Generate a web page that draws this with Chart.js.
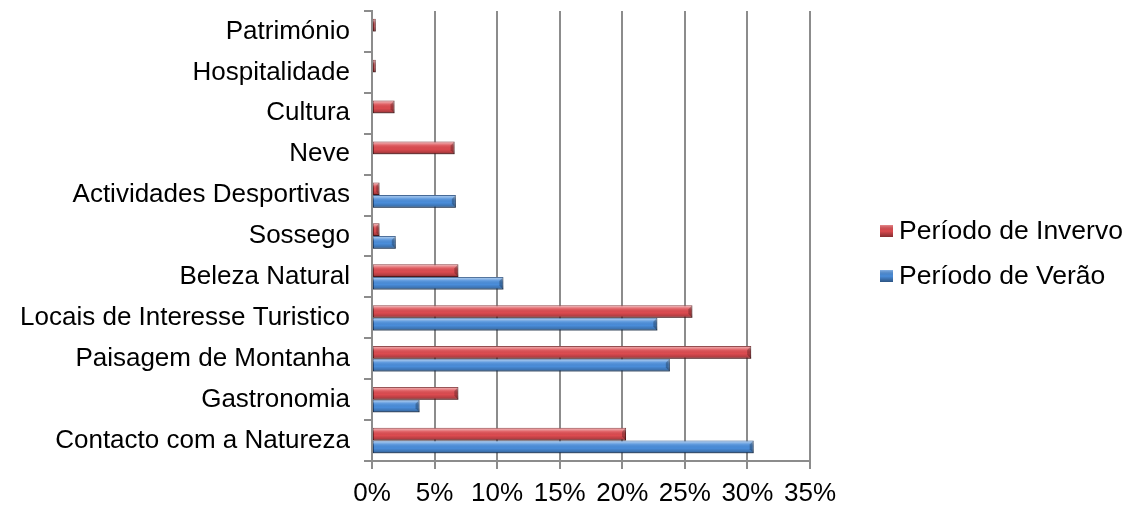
<!DOCTYPE html>
<html>
<head>
<meta charset="utf-8">
<script src="https://cdn.jsdelivr.net/npm/chart.js@4/dist/chart.umd.min.js"></script>
<style>
  html, body { margin: 0; padding: 0; background: #fff; }
  #wrap { width: 1130px; height: 507px; position: relative; }
</style>
</head>
<body>
<div id="wrap"><canvas id="chart" width="1130" height="507"></canvas></div>
<script>
  "use strict";

  // categories, top to bottom as in the picture
  const categorias = [
    'Património', 'Hospitalidade', 'Cultura', 'Neve', 'Actividades Desportivas',
    'Sossego', 'Beleza Natural', 'Locais de Interesse Turistico',
    'Paisagem de Montanha', 'Gastronomia', 'Contacto com a Natureza'
  ];
  // values in %
  const inverno = [0.3, 0.3, 1.8, 6.6, 0.6, 0.6, 6.9, 25.6, 30.3, 6.9, 20.3];
  const verao   = [0,   0,   0,   0,   6.7, 1.9, 10.5, 22.8, 23.8, 3.8, 30.5];
  const xTicks  = [0, 5, 10, 15, 20, 25, 30, 35];

  const FONT = 'Liberation Sans, Arial, sans-serif';
  const GRID = '#8c8c8c';

  // bevel look on each bar, drawn over the library's own bar rects
  const bevel = {
    id: 'bevel',
    afterDatasetsDraw(chart) {
      const ctx = chart.ctx;
      chart.data.datasets.forEach(function(ds, i) {
        chart.getDatasetMeta(i).data.forEach(function(bar) {
          const p = bar.getProps(['x', 'y', 'base', 'height'], true);
          const left = Math.min(p.base, p.x), right = Math.max(p.base, p.x);
          const top = p.y - p.height / 2, h = p.height;
          if (right - left < 0.5) return;
          ctx.save();
          const g = ctx.createLinearGradient(0, top, 0, top + h);
          g.addColorStop(0, 'rgba(255,255,255,0.10)');
          g.addColorStop(0.12, 'rgba(255,255,255,0.45)');
          g.addColorStop(0.3, 'rgba(255,255,255,0.12)');
          g.addColorStop(0.6, 'rgba(0,0,0,0.0)');
          g.addColorStop(0.85, 'rgba(0,0,0,0.18)');
          g.addColorStop(1, 'rgba(0,0,0,0.45)');
          ctx.fillStyle = g;
          ctx.fillRect(left, top, right - left, h);
          // right end facet
          const e = Math.min(4, (right - left) / 2);
          ctx.fillStyle = 'rgba(0,0,0,0.25)';
          ctx.beginPath();
          ctx.moveTo(right - e, top + e);
          ctx.lineTo(right, top);
          ctx.lineTo(right, top + h);
          ctx.lineTo(right - e, top + h - e);
          ctx.closePath();
          ctx.fill();
          ctx.restore();
        });
      });
    }
  };

  // legend on the right
  const legenda = {
    id: 'legenda',
    afterDraw(chart) {
      const ctx = chart.ctx;
      const ys = [231, 276];
      ctx.save();
      ctx.font = '26.5px ' + FONT;
      ctx.textBaseline = 'middle';
      chart.data.datasets.forEach(function(ds, i) {
        const y = ys[i];
        ctx.fillStyle = ds.backgroundColor;
        ctx.fillRect(880, y - 6, 13, 12);
        const g = ctx.createLinearGradient(0, y - 6, 0, y + 6);
        g.addColorStop(0, 'rgba(255,255,255,0.35)');
        g.addColorStop(0.5, 'rgba(0,0,0,0)');
        g.addColorStop(1, 'rgba(0,0,0,0.4)');
        ctx.fillStyle = g;
        ctx.fillRect(880, y - 6, 13, 12);
        ctx.fillStyle = '#000';
        ctx.fillText(ds.label, 899, y + 1);
      });
      ctx.restore();
    }
  };

  new Chart('chart', {
    type: 'bar',
    data: {
      labels: categorias,
      datasets: [
        { label: 'Período de Invervo', data: inverno, backgroundColor: '#dc4b50', borderColor: '#7a2326', borderWidth: 1, borderSkipped: false },
        { label: 'Período de Verão', data: verao, backgroundColor: '#4a8dda', borderColor: '#1f4a80', borderWidth: 1, borderSkipped: false }
      ]
    },
    options: {
      indexAxis: 'y',
      responsive: false,
      animation: false,
      events: [],
      layout: { padding: { top: 11, right: 320, bottom: 0, left: 0 } },
      datasets: { bar: { categoryPercentage: 0.62, barPercentage: 1 } },
      plugins: { legend: { display: false }, tooltip: { enabled: false } },
      scales: {
        x: {
          min: 0, max: 35,
          afterBuildTicks(scale) { scale.ticks = xTicks.map(function(v) { return { value: v }; }); },
          afterFit(scale) { scale.height = 46; },
          ticks: { color: '#000', font: { family: FONT, size: 26 }, padding: 9, callback: function(v) { return v + '%'; } },
          grid: { color: GRID, lineWidth: 2, tickLength: 8, tickColor: GRID },
          border: { color: GRID, width: 2 }
        },
        y: {
          afterFit(scale) { scale.width = 372; scale.paddingTop = 0; scale.paddingBottom = 0; },
          ticks: { color: '#000', font: { family: FONT, size: 26 }, padding: 14 },
          grid: { drawOnChartArea: false, color: GRID, lineWidth: 2, tickLength: 8, offset: true },
          border: { color: GRID, width: 2 }
        }
      }
    },
    plugins: [bevel, legenda]
  });
</script>
</body>
</html>
